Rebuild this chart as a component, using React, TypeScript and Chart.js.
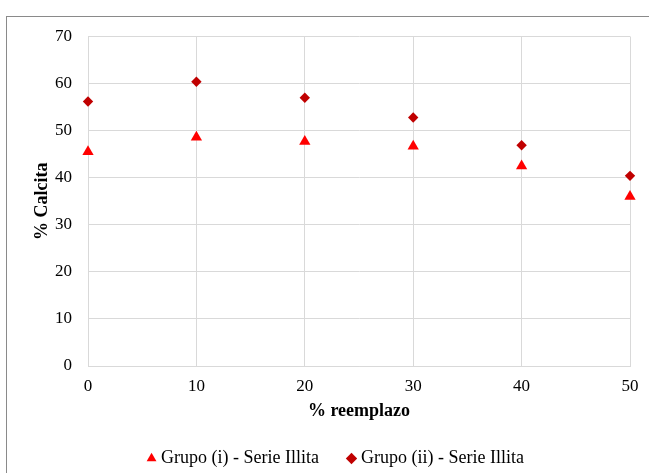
import React, { useEffect, useRef } from "react";
import { Chart, registerables } from "chart.js";

Chart.register(...registerables);

const xValues = [0, 10, 20, 30, 40, 50];
const grupoI = [45.5, 48.6, 47.7, 46.7, 42.5, 36.0];
const grupoII = [56.2, 60.4, 57.0, 52.8, 46.9, 40.4];
const seriesLabels = ["Grupo (i) - Serie Illita", "Grupo (ii) - Serie Illita"];
const xTitle = "% reemplazo";
const yTitle = "% Calcita";

const FONT = "'Liberation Serif', 'Times New Roman', serif";

const frame = {
  id: "frame",
  beforeDraw(chart: any) {
    const ctx = chart.ctx;
    ctx.save();
    ctx.fillStyle = "#ffffff";
    ctx.fillRect(0, 0, chart.width, chart.height);
    ctx.strokeStyle = "#8a8a8a";
    ctx.lineWidth = 1;
    ctx.strokeRect(6.5, 16.5, 800, 600);
    ctx.restore();
  },
};

export default function App() {
  const ref = useRef<HTMLCanvasElement>(null);
  useEffect(() => {
    if (!ref.current) return;
    const toPts = (arr: number[]) => arr.map((v, i) => ({ x: xValues[i], y: v }));
    const chart = new Chart(ref.current, {
      type: "scatter",
      data: {
        datasets: [
          {
            label: seriesLabels[0],
            data: toPts(grupoI),
            pointStyle: "triangle",
            pointRadius: 6.5,
            backgroundColor: "#ff0000",
            borderColor: "#ff0000",
            borderWidth: 0,
            clip: false,
          } as any,
          {
            label: seriesLabels[1],
            data: toPts(grupoII),
            pointStyle: "rectRot",
            pointRadius: 5.2,
            backgroundColor: "#c00000",
            borderColor: "#c00000",
            borderWidth: 0,
            clip: false,
          } as any,
        ],
      },
      options: {
        responsive: false,
        animation: false,
        layout: { padding: { left: 44, right: 18, top: 36.5, bottom: -4.5 } },
        plugins: {
          tooltip: { enabled: false },
          legend: {
            position: "bottom",
            labels: {
              usePointStyle: true,
              boxWidth: 1,
              boxHeight: 8,
              padding: 32,
              color: "#000",
              font: { family: FONT, size: 18 },
            },
          },
        },
        scales: {
          x: {
            type: "linear",
            min: 0,
            max: 50,
            afterFit: (s: any) => {
              s.height = 51.5;
            },
            ticks: { stepSize: 10, padding: 10.5, color: "#000", font: { family: FONT, size: 17 } },
            grid: { color: "#d9d9d9", drawTicks: false },
            border: { color: "#d9d9d9" },
            title: {
              display: true,
              text: xTitle,
              color: "#000",
              font: { family: FONT, size: 18, weight: "bold" },
              padding: { top: 0, bottom: -4.5 },
            },
          },
          y: {
            type: "linear",
            min: 0,
            max: 70,
            afterFit: (s: any) => {
              s.width = 44;
            },
            ticks: { stepSize: 10, padding: 16, color: "#000", font: { family: FONT, size: 17 } },
            grid: { color: "#d9d9d9", drawTicks: false },
            border: { color: "#d9d9d9" },
            title: {
              display: true,
              text: yTitle,
              color: "#000",
              font: { family: FONT, size: 18, weight: "bold" },
              padding: { top: -12.8, bottom: 0 },
            },
          },
        },
      },
      plugins: [frame],
    });
    return () => chart.destroy();
  }, []);
  return (
    <div style={{ position: "absolute", left: 0, top: 0, width: 649, height: 473 }}>
      <canvas ref={ref} width={649} height={473} style={{ display: "block" }} />
    </div>
  );
}
